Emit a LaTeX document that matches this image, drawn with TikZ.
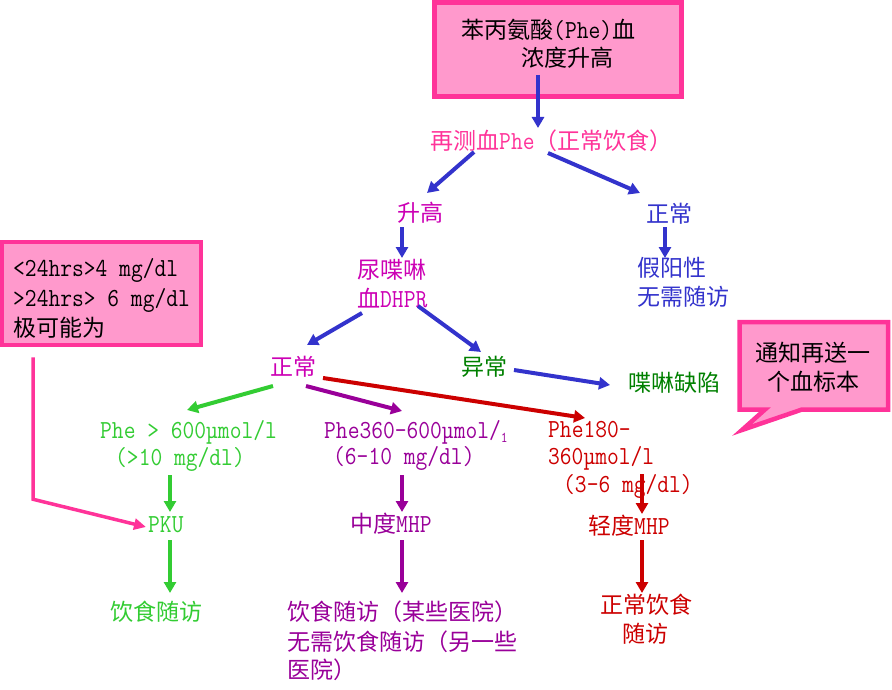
\documentclass[tikz,border=0pt]{standalone}
\usepackage{fontspec}
\setmainfont{Latin Modern Mono}[FakeStretch=0.88]
\newfontfamily\cjk{Noto Sans CJK SC}[Scale=0.885]
\usetikzlibrary{arrows.meta,calc}
\definecolor{pinkline}{RGB}{255,51,153}
\definecolor{pinkfill}{RGB}{255,153,204}
\definecolor{bl}{RGB}{51,51,204}
\definecolor{mag}{RGB}{204,0,180}
\definecolor{dg}{RGB}{0,128,0}
\definecolor{gr}{RGB}{51,204,51}
\definecolor{pu}{RGB}{153,0,153}
\definecolor{rd}{RGB}{204,0,0}
\newcommand\zhs[1]{{\cjk #1}}
\tikzset{
  lbl/.style={anchor=west, inner sep=0pt, font=\fontsize{26}{28}\selectfont},
  pinkbox/.style={draw=pinkline, fill=pinkfill, line width=4.5pt},
  arr/.style={line width=4pt, -{Triangle[length=11pt,width=12pt]}},
}
\begin{document}
\begin{tikzpicture}[x=1pt,y=-1pt]
\useasboundingbox (0,0) rectangle (892,690);
% boxes
\node[pinkbox, minimum width=247pt, minimum height=94pt] (top) at (558,49.5) {};
\node[pinkbox, minimum width=199pt, minimum height=103pt] (lbox) at (101.5,293.5) {};
\draw[pinkbox, line join=miter] (739.5,322) -- (888,322) -- (888,409.5) -- (802,409.5) -- (742,430) -- (765,409.5) -- (739.5,409.5) -- cycle;
% texts
\node[lbl] (t1) at (461,30) {\zhs{苯丙氨酸}(Phe)\zhs{血}};
\node[lbl] (t2) at (521,58) {\zhs{浓度升高}};
\node[lbl, text=pinkline] (rc) at (430,141) {\zhs{再测血}Phe\zhs{（正常饮食）}};
\node[lbl, text=mag] (sg) at (397,213) {\zhs{升高}};
\node[lbl, text=bl] (zc) at (646,214) {\zhs{正常}};
\node[lbl, text=mag] (nd1) at (357,270) {\zhs{尿喋啉}};
\node[lbl, text=mag] (nd2) at (357,298) {\zhs{血}DHPR};
\node[lbl, text=bl] (jy1) at (637,268) {\zhs{假阳性}};
\node[lbl, text=bl] (jy2) at (637,297) {\zhs{无需随访}};
\node[lbl, text=mag] (zl) at (270,367) {\zhs{正常}};
\node[lbl, text=dg] (yc) at (461,367) {\zhs{异常}};
\node[lbl, text=dg] (px) at (628,383) {\zhs{喋啉缺陷}};
\node[lbl, text=gr] (g1) at (100,432) {Phe > 600µmol/l};
\node[lbl, text=gr] (g2) at (115,459) {(>10 mg/dl)};
\node[lbl, text=pu] (p1) at (324,432) {Phe360-600µmol/\raisebox{-4pt}{\fontsize{15}{15}\selectfont 1}};
\node[lbl, text=pu] (p2) at (333,458) {(6-10 mg/dl)};
\node[lbl, text=rd] (r1) at (548,430) {Phe180-};
\node[lbl, text=rd] (r2) at (548,458) {360µmol/l};
\node[lbl, text=rd] (r3) at (563,486) {(3-6 mg/dl)};
\node[lbl, text=gr] (pku) at (148,525) {PKU};
\node[lbl, text=pu] (zd) at (350,524) {\zhs{中度}MHP};
\node[lbl, text=rd] (qd) at (588,526) {\zhs{轻度}MHP};
\node[lbl, text=gr] (gf) at (110,612) {\zhs{饮食随访}};
\node[lbl, text=pu] (pf1) at (287,612) {\zhs{饮食随访（某些医院）}};
\node[lbl, text=pu] (pf2) at (287,642) {\zhs{无需饮食随访（另一些}};
\node[lbl, text=pu] (pf3) at (287,670) {\zhs{医院）}};
\node[lbl, text=rd] (rf1) at (600,605) {\zhs{正常饮食}};
\node[lbl, text=rd] (rf2) at (622,634) {\zhs{随访}};
\node[lbl] (lb1) at (13,270) {<24hrs>4 mg/dl};
\node[lbl] (lb2) at (13,300) {>24hrs> 6 mg/dl};
\node[lbl] (lb3) at (13,328) {\zhs{极可能为}};
\node[lbl] (cb1) at (755,353) {\zhs{通知再送一}};
\node[lbl] (cb2) at (767,382) {\zhs{个血标本}};
% arrows
\draw[arr, bl] ($(t2.west)+(17,17)$) -- ($(rc.west)+(108,-13)$);
\draw[arr, bl] ($(rc.west)+(44,11)$) -- ($(sg.west)+(30,-20)$);
\draw[arr, bl] ($(rc.west)+(118,12)$) -- ($(zc.west)+(-6,-21)$);
\draw[arr, bl] ($(sg.west)+(5,14)$) -- ($(nd1.west)+(45,-12)$);
\draw[arr, bl] ($(zc.west)+(19,13)$) -- ($(jy1.west)+(28,-10)$);
\draw[arr, bl] ($(nd2.west)+(5,15)$) -- ($(zl.west)+(37,-22)$);
\draw[arr, bl] ($(nd2.west)+(61,8)$) -- ($(yc.west)+(20,-15)$);
\draw[arr, bl] ($(yc.west)+(53,3)$) -- ($(px.west)+(-18,2)$);
\draw[arr, gr] ($(zl.west)+(3,19)$) -- ($(g1.west)+(87,-22)$);
\draw[arr, pu] ($(zl.west)+(36,19)$) -- ($(p1.west)+(78,-21)$);
\draw[arr, rd] ($(zl.west)+(53,11)$) -- ($(r1.west)+(37,-12)$);
\draw[arr, gr] ($(g2.west)+(55,16)$) -- ($(pku.west)+(22,-13)$);
\draw[arr, gr] ($(pku.west)+(22,15)$) -- ($(gf.west)+(60,-19)$);
\draw[arr, pu] ($(p2.west)+(69,17)$) -- ($(zd.west)+(52,-12)$);
\draw[arr, pu] ($(zd.west)+(52,16)$) -- ($(pf1.west)+(115,-19)$);
\draw[arr, rd] ($(r3.west)+(79,-12)$) -- ($(qd.west)+(54,-12)$);
\draw[arr, rd] ($(qd.west)+(54,14)$) -- ($(rf1.west)+(42,-12)$);
\draw[pinkline, line width=3.5pt, -{Triangle[length=12pt,width=11pt]}] ($(lbox.south)+(-68.5,10)$) -- ++(0,142) -- ($(pku.west)+(-2,2)$);
\end{tikzpicture}
\end{document}
